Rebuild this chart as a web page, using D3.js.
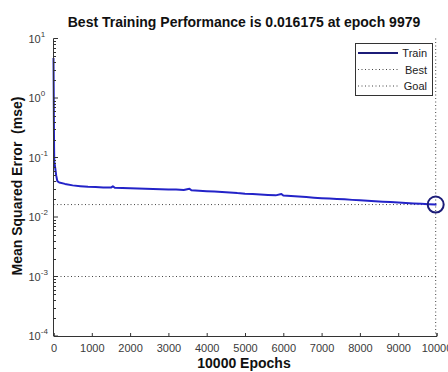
<!DOCTYPE html>
<html><head><meta charset="utf-8">
<script src="https://cdn.jsdelivr.net/npm/d3@7"></script>
<style>
html,body{margin:0;padding:0;background:#fff;}
svg{display:block;font-family:Arial,"Liberation Sans",sans-serif;}
</style></head>
<body><svg id="c" width="448" height="372"></svg>
<script>
// ---- data ----
const epochs = [0,5,10,15,20,40,70,100,150,300,500,700,900,1100,1300,1500,1550,1600,1800,2000,2200,2400,2600,2800,3000,3200,3400,3550,3600,3800,4000,4200,4400,4600,4800,5000,5200,5400,5600,5800,5950,6000,6200,6400,6600,6800,7000,7200,7400,7600,7800,8000,8200,8400,8600,8800,9000,9200,9400,9600,9800,9979,10000];
const trainMse = [4.7,1.5,0.4,0.15,0.085,0.07,0.05,0.04,0.038,0.036,0.034,0.033,0.0322,0.0318,0.0314,0.0312,0.0328,0.031,0.0306,0.0303,0.0301,0.0298,0.0296,0.0293,0.0291,0.0289,0.0284,0.0298,0.0281,0.0277,0.0272,0.0268,0.0264,0.0259,0.0252,0.0247,0.0244,0.0239,0.0235,0.0231,0.0243,0.0229,0.0225,0.0221,0.0216,0.0211,0.0207,0.0204,0.0201,0.0198,0.0194,0.0191,0.0188,0.0184,0.0181,0.0178,0.0175,0.0172,0.0169,0.0167,0.0164,0.016175,0.0162];
const bestEpoch = 9979;
const bestPerf = 0.016175;
const goalPerf = 0.001;
const xTicks = [0,1000,2000,3000,4000,5000,6000,7000,8000,9000,10000];
const yExponents = [1,0,-1,-2,-3,-4];
const legendLabels = ["Train","Best","Goal"];
const titleText = "Best Training Performance is 0.016175 at epoch 9979";
const xLabelText = "10000 Epochs";
const yLabelText = "Mean Squared Error  (mse)";

// ---- layout ----
const svg = d3.select("#c");
const L = 53.5, R = 436.5, T = 38.5, B = 336;
const x = d3.scaleLinear().domain([0,10000]).range([L,R]);
const y = d3.scaleLog().domain([1e-4,10]).range([B,T]);
const axisCol = "#333";
const lineCol = "#2323c8";
const navy = "#1c1c78";
const FF = "Arial, Liberation Sans, sans-serif";

// goal & best dotted lines
svg.append("line").attr("x1",L).attr("x2",R).attr("y1",y(bestPerf)).attr("y2",y(bestPerf))
  .attr("stroke","#444").attr("stroke-width",1).attr("stroke-dasharray","1,2.5");
svg.append("line").attr("x1",L).attr("x2",R).attr("y1",y(goalPerf)).attr("y2",y(goalPerf))
  .attr("stroke","#444").attr("stroke-width",1).attr("stroke-dasharray","1,2.5");
svg.append("line").attr("x1",x(bestEpoch)).attr("x2",x(bestEpoch)).attr("y1",T).attr("y2",B)
  .attr("stroke","#444").attr("stroke-width",1).attr("stroke-dasharray","1,2.5");

// train curve
const data = epochs.map((e,i)=>[e,trainMse[i]]);
svg.append("path").datum(data)
  .attr("d",d3.line().x(d=>x(d[0])).y(d=>y(d[1])))
  .attr("fill","none").attr("stroke",lineCol).attr("stroke-width",2).attr("stroke-linejoin","round");

// best marker
svg.append("circle").attr("cx",x(bestEpoch)).attr("cy",y(bestPerf)).attr("r",8)
  .attr("fill","none").attr("stroke",navy).attr("stroke-width",2);

// axes
const xAxis = d3.axisBottom(x).tickValues(xTicks).tickSize(-3).tickPadding(8).tickFormat(d3.format("d"));
const gx = svg.append("g").attr("transform",`translate(0,${B})`).call(xAxis);
gx.attr("font-family",FF);
gx.select(".domain").attr("stroke",axisCol);
gx.selectAll(".tick line").attr("stroke",axisCol);
gx.selectAll(".tick text").attr("font-size",11).attr("fill","#3a3a3a");

const majors = yExponents.map(e=>Math.pow(10,e));
const minors = [];
for (let e=-4;e<1;e++) for (let k=2;k<10;k++) minors.push(k*Math.pow(10,e));
const gy = svg.append("g").attr("transform",`translate(${L},0)`);
gy.append("line").attr("x1",0).attr("x2",0).attr("y1",T).attr("y2",B).attr("stroke",axisCol);
gy.selectAll("line.minor").data(minors).join("line").attr("class","minor")
  .attr("x1",0).attr("x2",2.5).attr("y1",d=>Math.round(y(d))+0.5).attr("y2",d=>Math.round(y(d))+0.5).attr("stroke",axisCol);
gy.selectAll("line.major").data(majors).join("line").attr("class","major")
  .attr("x1",0).attr("x2",4.5).attr("y1",d=>y(d)).attr("y2",d=>y(d)).attr("stroke",axisCol);
const yl = gy.selectAll("text.yl").data(yExponents).join("text").attr("class","yl")
  .attr("x",-25).attr("y",d=>y(Math.pow(10,d))+4).attr("text-anchor","start")
  .attr("font-size",11).attr("fill","#3a3a3a");
yl.append("tspan").text("10");
yl.append("tspan").attr("dy",-6).attr("font-size",8).text(d=>String(d));

// labels
svg.append("text").attr("x",244).attr("y",27).attr("text-anchor","middle")
  .attr("font-size",14).attr("font-weight","bold").attr("fill","#111").text(titleText);
svg.append("text").attr("x",244).attr("y",368).attr("text-anchor","middle")
  .attr("font-size",14).attr("font-weight","bold").attr("fill","#111").text(xLabelText);
svg.append("text").attr("transform","translate(22,186) rotate(-90)").attr("text-anchor","middle")
  .style("white-space","pre")
  .attr("font-size",14).attr("font-weight","bold").attr("fill","#111").text(yLabelText);

// legend
const lg = svg.append("g");
lg.append("rect").attr("x",355.5).attr("y",43.5).attr("width",77).attr("height",52)
  .attr("fill","#fff").attr("stroke","#333").attr("stroke-width",1);
legendLabels.forEach((lab,i)=>{
  const yy = 53 + i*16.5;
  const ln = lg.append("line").attr("x1",358).attr("x2",398).attr("y1",yy).attr("y2",yy);
  if (i===0) ln.attr("stroke",navy).attr("stroke-width",2);
  else ln.attr("stroke","#444").attr("stroke-width",1).attr("stroke-dasharray","1,2.5");
  lg.append("text").attr("x",427).attr("y",yy+4).attr("text-anchor","end")
    .attr("font-size",11).attr("fill","#222").text(lab);
});
</script></body></html>
